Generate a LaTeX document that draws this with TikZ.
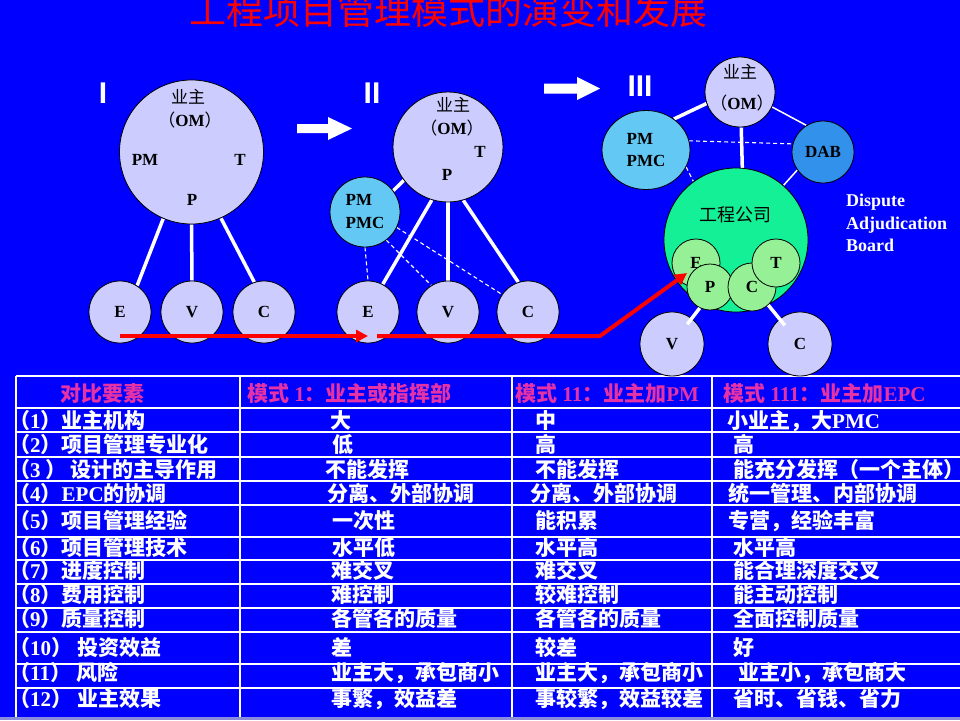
\documentclass[tikz,border=0pt]{standalone}
\usepackage{fontspec}
\setmainfont{Liberation Serif}
\newfontfamily\cjk{Noto Sans CJK SC}
\newfontfamily\sansb{Liberation Sans}
\usetikzlibrary{arrows.meta,shapes.geometric}
\definecolor{bgblue}{RGB}{0,0,255}
\definecolor{lav}{RGB}{204,204,255}
\definecolor{pmcblue}{RGB}{100,200,245}
\definecolor{dabblue}{RGB}{50,145,235}
\definecolor{gco}{RGB}{20,240,150}
\definecolor{lgreen}{RGB}{150,240,150}
\definecolor{hdr}{RGB}{230,50,165}
\definecolor{botline}{RGB}{140,140,220}
\newcommand\lt[1]{{\rmfamily\bfseries #1}}
\newcommand\lblfont{\fontsize{17}{23}\selectfont\rmfamily\bfseries}
\newcommand\tabfont{\fontsize{21}{24}\selectfont\cjk\bfseries}
\pgfdeclarelayer{back}
\pgfdeclarelayer{lines}
\pgfdeclarelayer{front}
\pgfsetlayers{back,lines,main,front}
\begin{document}
\begin{tikzpicture}[x=1pt,y=-1pt,
  circ/.style={circle, draw=black, line width=0.8pt, inner sep=0pt, font=\lblfont, text=black},
  ell/.style={ellipse, draw=black, line width=0.8pt, inner sep=0pt, font=\lblfont, text=black},
  lb/.style={inner sep=0pt, font=\lblfont, text=black},
  cl/.style={inner sep=0pt, font=\fontsize{17}{20}\selectfont\cjk, text=black},
  conn/.style={draw=white, line width=3.5pt},
  thinl/.style={draw=white, line width=1.5pt},
  dl/.style={draw=white, line width=1.1pt, dash pattern=on 4pt off 3pt},
  tx/.style={anchor=base west, inner sep=0pt, text=white, font=\tabfont},
  hd/.style={tx, text=hdr},
  tline/.style={draw=white, line width=1.3pt},
  roman/.style={anchor=base, inner sep=0pt, text=white, font=\fontsize{30}{30}\selectfont\sansb\bfseries},
  redarr/.style={draw=red, line width=4pt, -{Triangle[length=12pt,width=12pt]}}
]
\useasboundingbox (0,0) rectangle (960,720);
\clip (0,0) rectangle (960,720);

\begin{pgfonlayer}{back}
\fill[bgblue] (0,0) rectangle (960,720);
% table grid
\foreach \yy in {376,408,432,457,481,505,537,560,584,608,632,664,688}
  \draw[tline] (16,\yy) -- (960,\yy);
\foreach \xx in {16,240,512,712}
  \draw[tline] (\xx,376) -- (\xx,718);
\draw[draw=botline, line width=2.5pt] (0,718.5) -- (960,718.5);
\end{pgfonlayer}

% title
\node[anchor=base, inner sep=0pt, text=red, font=\fontsize{37}{40}\selectfont\cjk] (title) at (448.5,24.5) {工程项目管理模式的演变和发展};

% roman numerals
\node[roman] (n1) at (103,103) {I};
\node[roman] (n2) at (372,103) {II};
\node[roman] (n3) at (640,96) {III};

% block arrows
\fill[white] (297,124) -- (328,124) -- (328,117) -- (352,128.5) -- (328,140) -- (328,133) -- (297,133) -- cycle;
\fill[white] (544,83.5) -- (577,83.5) -- (577,77) -- (600,88.5) -- (577,100) -- (577,93.5) -- (544,93.5) -- cycle;

% Panel I
\node[circ, fill=lav, minimum size=144pt] (b1) at (191.5,152) {};
\node[circ, fill=lav, minimum size=62pt] (e1) at (120,312) {E};
\node[circ, fill=lav, minimum size=62pt] (v1) at (192,312) {V};
\node[circ, fill=lav, minimum size=62pt] (c1) at (264,312) {C};
\node[cl] (b1own) at (188,97) {业主};
\node[cl] (b1om) at (190,120) {（\lt{OM}）};
\node[lb] (b1pm) at (145,160) {PM};
\node[lb] (b1t) at (240,160) {T};
\node[lb] (b1p) at (192,200) {P};

% Panel II
\node[circ, fill=lav, minimum size=110pt] (b2) at (448,147) {};
\node[circ, fill=pmcblue, minimum size=70pt, align=left] (p2) at (365,212) {PM\\PMC};
\node[circ, fill=lav, minimum size=62pt] (e2) at (368,312) {E};
\node[circ, fill=lav, minimum size=62pt] (v2) at (448,312) {V};
\node[circ, fill=lav, minimum size=62pt] (c2) at (528,312) {C};
\node[cl] (b2own) at (453,105) {业主};
\node[cl] (b2om) at (452,128) {（\lt{OM}）};
\node[lb] (b2t) at (480,152) {T};
\node[lb] (b2p) at (447,175) {P};

% Panel III
\node[circ, fill=lav, minimum size=70pt] (o3) at (740,92) {};
\node[ell, fill=pmcblue, minimum width=88pt, minimum height=79pt, align=left,
      font=\fontsize{17}{22}\selectfont\rmfamily\bfseries] (p3) at (646,150) {PM\\PMC};
\node[circ, fill=dabblue, minimum size=62pt] (d3) at (823,152) {DAB};
\node[circ, fill=gco, minimum size=144pt] (g3) at (736,240) {};
\node[circ, fill=lgreen, minimum size=48pt] (se) at (696,263) {E};
\node[circ, fill=lgreen, minimum size=46pt] (sp) at (710,287) {P};
\node[circ, fill=lgreen, minimum size=48pt] (sc) at (752,287) {C};
\node[circ, fill=lgreen, minimum size=48pt] (st) at (776,263) {T};
\node[circ, fill=lav, minimum size=64pt] (v3) at (672,344) {V};
\node[circ, fill=lav, minimum size=64pt] (c3) at (800,344) {C};
\node[cl] (o3own) at (740,72) {业主};
\node[cl] (o3om) at (742,103) {（\lt{OM}）};
\node[cl, font=\fontsize{18}{20}\selectfont\cjk] (g3lbl) at (735,215) {工程公司};
\node[anchor=north west, inner sep=0pt, align=left, text=white,
      font=\fontsize{18}{22.5}\selectfont\bfseries] (dabtxt) at (846,194) {Dispute\\Adjudication\\Board};

% connectors
\begin{pgfonlayer}{lines}
\draw[conn] (b1.247) -- (e1.57);
\draw[conn] (b1.270) -- (v1.90);
\draw[conn] (b1.294) -- (c1.108);
\draw[conn] (b2.253) -- (e2.62);
\draw[conn] (b2.270) -- (v2.90);
\draw[conn] (b2.286) -- (c2.108);
\draw[conn] (b2.217) -- (p2.37);
\draw[dl] (p2.south) -- (e2.north);
\draw[dl] (p2.307) -- (v2.122);
\draw[dl] (p2.334) -- (c2.146);
\draw[conn] (o3.199) -- (p3.48);
\draw[conn] (o3.272) -- (g3.85);
\draw[thinl] (o3.335) -- (d3.122);
\draw[dl] (p3.12) -- (d3.165);
\draw[dl] (p3.337) -- (g3.126);
\draw[thinl] (d3.215) -- (g3.49);
\end{pgfonlayer}

\begin{pgfonlayer}{front}
\draw[conn, shorten >=25pt] (sp.244) -- (v3.center);
\draw[conn, shorten >=24pt] (sc.312) -- (c3.center);
\coordinate (r0) at (120,336);
\coordinate (r1) at (368,336);
\coordinate (r2) at (377,336);
\coordinate (r3) at (600,336);
\coordinate (r4) at (687,273);
\draw[redarr] (r0) -- (r1);
\draw[redarr] (r2) -- (r3) -- (r4);
\end{pgfonlayer}

% table text
\node[hd] (h0) at (60,401) {对比要素};
\node[hd] (h1) at (247,401) {模式\lt{ 1}：业主或指挥部};
\node[hd] (h2) at (515,401) {模式\lt{ 11}：业主加\lt{PM}};
\node[hd] (h3) at (723,401) {模式\lt{ 111}：业主加\lt{EPC}};

\node[tx] (a1) at (9,428) {（\lt{1}）业主机构};
\node[tx] (a2) at (9,452) {（\lt{2}）项目管理专业化};
\node[tx] (a3) at (9,477) {（\lt{3 }）\,设计的主导作用};
\node[tx] (a4) at (9,501) {（\lt{4}）\lt{EPC}的协调};
\node[tx] (a5) at (9,528) {（\lt{5}）项目管理经验};
\node[tx] (a6) at (9,555) {（\lt{6}）项目管理技术};
\node[tx] (a7) at (9,578) {（\lt{7}）进度控制};
\node[tx] (a8) at (9,602) {（\lt{8}）费用控制};
\node[tx] (a9) at (9,626) {（\lt{9}）质量控制};
\node[tx] (a10) at (9,655) {（\lt{10}）\lt{ }投资效益};
\node[tx] (a11) at (9,680) {（\lt{11}）\lt{ }风险};
\node[tx] (a12) at (9,706) {（\lt{12}）\lt{ }业主效果};

\node[tx] (b01) at (330,428) {大};
\node[tx] (b02) at (332,452) {低};
\node[tx] (b03) at (325,477) {不能发挥};
\node[tx] (b04) at (327,501) {分离、外部协调};
\node[tx] (b05) at (332,528) {一次性};
\node[tx] (b06) at (332,555) {水平低};
\node[tx] (b07) at (331,578) {难交叉};
\node[tx] (b08) at (331,602) {难控制};
\node[tx] (b09) at (331,626) {各管各的质量};
\node[tx] (b10) at (331,655) {差};
\node[tx] (b11) at (331,680) {业主大，承包商小};
\node[tx] (b12) at (331,706) {事繁，效益差};

\node[tx] (c01) at (535,428) {中};
\node[tx] (c02) at (535,452) {高};
\node[tx] (c03) at (535,477) {不能发挥};
\node[tx] (c04) at (530,501) {分离、外部协调};
\node[tx] (c05) at (535,528) {能积累};
\node[tx] (c06) at (535,555) {水平高};
\node[tx] (c07) at (535,578) {难交叉};
\node[tx] (c08) at (535,602) {较难控制};
\node[tx] (c09) at (535,626) {各管各的质量};
\node[tx] (c10) at (535,655) {较差};
\node[tx] (c11) at (535,680) {业主大，承包商小};
\node[tx] (c12) at (535,706) {事较繁，效益较差};

\node[tx] (d01) at (727,428) {小业主，大\lt{PMC}};
\node[tx] (d02) at (733,452) {高};
\node[tx] (d03) at (733,477) {能充分发挥（一个主体）};
\node[tx] (d04) at (728,501) {统一管理、内部协调};
\node[tx] (d05) at (728,528) {专营，经验丰富};
\node[tx] (d06) at (733,555) {水平高};
\node[tx] (d07) at (733,578) {能合理深度交叉};
\node[tx] (d08) at (733,602) {能主动控制};
\node[tx] (d09) at (733,626) {全面控制质量};
\node[tx] (d10) at (733,655) {好};
\node[tx] (d11) at (738,680) {业主小，承包商大};
\node[tx] (d12) at (733,706) {省时、省钱、省力};
\end{tikzpicture}
\end{document}
